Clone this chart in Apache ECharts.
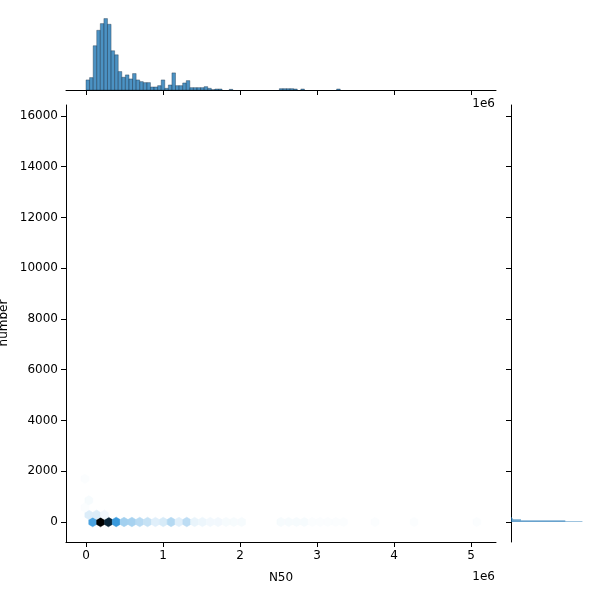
<!DOCTYPE html>
<html><head><meta charset="utf-8">
<script src="https://cdn.jsdelivr.net/npm/echarts@6/dist/echarts.min.js"></script>
<style>html,body{margin:0;padding:0;background:#fff}#c{width:600px;height:600px}</style>
</head><body><div id="c"></div>
<script>
// ---- tick values ----
const xTicks = [0, 1e6, 2e6, 3e6, 4e6, 5e6];
const yTicks = [0, 2000, 4000, 6000, 8000, 10000, 12000, 14000, 16000];

// ---- marginal histogram of N50 (bin i spans [i*w, (i+1)*w]) ----
const n50BinWidth = 46500;
const n50Counts = [30,37,132,178,198,213,196,117,105,55,38,45,33,49,30,25,22,22,9,9,
  13,30,5,15,51,13,13,21,28,7,7,7,7,10,5,1,3,3,0,0,
  2,0,0,0,0,0,0,0,0,0,0,0,0,0,4,4,4,4,3,0,
  3,0,0,0,0,0,0,0,0,0,3];

// ---- marginal histogram of number ----
const numberBinStart = 1;
const numberBinWidth = 20;
const numberCounts = [100, 76, 76, 14, 14, 3, 2, 2, 1, 1];

// ---- hexbin lattice and cells: [col, row, count] ----
const hexX0 = 87000, hexSx = 101800, hexSy = 567.5, hexY0 = 0;
const hexCells = [
  [0,0,42],[1,0,100],[2,0,87],[3,0,46],[4,0,22],[5,0,21],[6,0,17],[7,0,14],[8,0,8],[9,0,10],
  [10,0,18],[11,0,8],[12,0,16],[13,0,6],[14,0,5],[15,0,4],[16,0,4],[17,0,3],[18,0,3],[19,0,3],
  [24,0,3],[25,0,3],[26,0,3],[27,0,3],[28,0,2],[29,0,2],[30,0,2],[31,0,2],[32,0,2],
  [36,0,2],[41,0,2],[49,0,2],
  [0,1,9],[1,1,9],[2,1,4],
  [-1,2,2],[0,3,3],[-1,6,2]
];

function hexValue(c) { // row parity selects lattice
  const row = c[1];
  const off = (row % 2 === 0) ? 0 : -0.5;
  return [hexX0 + (c[0] + off) * hexSx, hexY0 + row * hexSy / 2, c[2]];
}

// seaborn-style hex colormap: blend from white through C0 hue to black
function hue2rgb(p, q, t) {
  if (t < 0) t += 1; if (t > 1) t -= 1;
  if (t < 1/6) return p + (q - p) * 6 * t;
  if (t < 1/2) return q;
  if (t < 2/3) return p + (q - p) * (2/3 - t) * 6;
  return p;
}
function hls(h, l, s) {
  const q = l < 0.5 ? l * (1 + s) : l + s - l * s;
  const p = 2 * l - q;
  return [hue2rgb(p, q, h + 1/3), hue2rgb(p, q, h), hue2rgb(p, q, h - 1/3)];
}
const H = 0.5682, S = 0.706;
const stops = [];
for (let k = 0; k < 12; k++) stops.push(hls(H, 1 - k / 11, S));
const maxCount = Math.max(...hexCells.map(c => c[2]));
function cmap(count) {
  let t = (count - 1) / (maxCount - 1);
  t = Math.max(0, Math.min(1, t)) * 11;
  const i = Math.min(10, Math.floor(t)), f = t - i;
  const a = stops[i], b = stops[i + 1];
  const rgb = a.map((v, j) => Math.round(255 * (v + (b[j] - v) * f)));
  return 'rgb(' + rgb.join(',') + ')';
}

const font = 'DejaVu Sans';
const XMIN = -259740, XMAX = 5324675, YMIN = -789, YMAX = 16433;
const n50Max = Math.max(...n50Counts);
const numMax = Math.max(...numberCounts);

const chart = echarts.init(document.getElementById('c'), null, {renderer: 'canvas'});
chart.setOption({
  animation: false,
  backgroundColor: '#fff',
  grid: [
    {left: 66, top: 105, width: 430, height: 437},
    {left: 66, top: 15, width: 430, height: 75},
    {left: 511, top: 105, width: 75, height: 437}
  ],
  xAxis: [
    {gridIndex: 0, type: 'value', min: XMIN, max: XMAX,
      axisLine: {show: true, onZero: false, lineStyle: {color: '#000', width: 1}},
      axisTick: {show: true, length: 5, customValues: xTicks, lineStyle: {color: '#000', width: 1}},
      axisLabel: {show: true, customValues: xTicks, formatter: v => String(Math.round(v / 1e6)),
        color: '#000', fontSize: 12, fontFamily: font, margin: 8},
      splitLine: {show: false},
      name: 'N50', nameLocation: 'middle', nameGap: 30,
      nameTextStyle: {color: '#000', fontSize: 12, fontFamily: font}},
    {gridIndex: 1, type: 'value', min: XMIN, max: XMAX,
      axisLine: {show: true, onZero: false, lineStyle: {color: '#000', width: 1}},
      axisTick: {show: true, length: 5, customValues: xTicks, lineStyle: {color: '#000', width: 1}},
      axisLabel: {show: false}, splitLine: {show: false}},
    {gridIndex: 2, type: 'value', min: 0, max: numMax * 1.05, show: false, splitLine: {show: false}}
  ],
  yAxis: [
    {gridIndex: 0, type: 'value', min: YMIN, max: YMAX,
      axisLine: {show: true, onZero: false, lineStyle: {color: '#000', width: 1}},
      axisTick: {show: true, length: 5, customValues: yTicks, lineStyle: {color: '#000', width: 1}},
      axisLabel: {show: true, customValues: yTicks, formatter: v => String(v),
        color: '#000', fontSize: 12, fontFamily: font, margin: 8},
      splitLine: {show: false}},
    {gridIndex: 1, type: 'value', min: 0, max: n50Max * 1.05, show: false, splitLine: {show: false}},
    {gridIndex: 2, type: 'value', min: YMIN, max: YMAX,
      axisLine: {show: true, onZero: false, lineStyle: {color: '#000', width: 1}},
      axisTick: {show: true, length: 5, customValues: yTicks, lineStyle: {color: '#000', width: 1}},
      axisLabel: {show: false}, splitLine: {show: false}}
  ],
  series: [
    { // hexbin
      type: 'custom', xAxisIndex: 0, yAxisIndex: 0, clip: true,
      data: hexCells.map(hexValue),
      renderItem: function (params, api) {
        const x = api.value(0), y = api.value(1), cnt = api.value(2);
        const c = api.coord([x, y]);
        const s = api.size([hexSx, hexSy]);
        const w = s[0], h = s[1];
        const pts = [
          [c[0] + w / 2, c[1] - h / 6], [c[0] + w / 2, c[1] + h / 6], [c[0], c[1] + h / 3],
          [c[0] - w / 2, c[1] + h / 6], [c[0] - w / 2, c[1] - h / 6], [c[0], c[1] - h / 3]
        ];
        const col = cmap(cnt);
        return {type: 'polygon', shape: {points: pts},
          style: {fill: col, stroke: col, lineWidth: 0.5}};
      }
    },
    { // top marginal histogram
      type: 'custom', xAxisIndex: 1, yAxisIndex: 1,
      data: n50Counts.map((v, i) => [i * n50BinWidth, (i + 1) * n50BinWidth, v]).filter(d => d[2] > 0),
      renderItem: function (params, api) {
        const p0 = api.coord([api.value(0), 0]);
        const p1 = api.coord([api.value(1), api.value(2)]);
        return {type: 'rect', shape: {x: p0[0], y: p1[1], width: p1[0] - p0[0], height: p0[1] - p1[1]},
          style: {fill: 'rgba(31,119,180,0.8)', stroke: 'rgba(20,40,60,0.6)', lineWidth: 0.6}};
      }
    },
    { // right marginal histogram
      type: 'custom', xAxisIndex: 2, yAxisIndex: 2,
      data: numberCounts.map((v, i) => [numberBinStart + i * numberBinWidth, numberBinStart + (i + 1) * numberBinWidth, v]),
      renderItem: function (params, api) {
        const p0 = api.coord([0, api.value(0)]);
        const p1 = api.coord([api.value(2), api.value(1)]);
        return {type: 'rect', shape: {x: p0[0], y: p1[1], width: p1[0] - p0[0], height: p0[1] - p1[1]},
          style: {fill: 'rgba(31,119,180,0.85)'}};
      }
    }
  ],
  graphic: [
    {type: 'text', x: 4, y: 323, rotation: Math.PI / 2,
      style: {text: 'number', fill: '#000', fontSize: 12, fontFamily: font, align: 'center', verticalAlign: 'middle'}},
    {type: 'text', x: 495, y: 577,
      style: {text: '1e6', fill: '#000', fontSize: 12, fontFamily: font, align: 'right', verticalAlign: 'middle'}},
    {type: 'text', x: 495, y: 104,
      style: {text: '1e6', fill: '#000', fontSize: 12, fontFamily: font, align: 'right', verticalAlign: 'middle'}}
  ]
});
</script>
</body></html>
